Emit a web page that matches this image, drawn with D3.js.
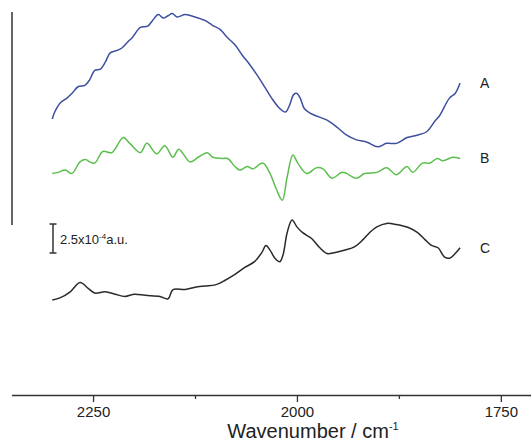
<!DOCTYPE html>
<html>
<head>
<meta charset="utf-8">
<script src="https://cdn.jsdelivr.net/npm/d3@7"></script>
<style>
  body { margin: 0; background: #fff; }
  text { font-family: "Liberation Sans", Arial, sans-serif; fill: #222; }
</style>
</head>
<body>
<svg id="chart" width="531" height="442"></svg>
<script>
// wavenumber (cm-1), absorbance in units of 1e-4 a.u. (curves are offset)
const seriesA = [[2300,22.5],[2297,23.1],[2290,23.9],[2282,24.3],[2276,24.7],[2268,25.3],[2260,25.4],[2254,25.9],[2248,26.7],[2241,26.8],[2235,27.4],[2229,28.2],[2221,28.4],[2215,28.6],[2208,29.1],[2201,29.6],[2192,30.4],[2183,30.5],[2177,31.0],[2170,31.5],[2164,31.2],[2158,31.4],[2153,31.6],[2147,31.3],[2137,31.5],[2125,31.3],[2113,31.0],[2104,30.6],[2094,30.2],[2085,29.5],[2076,28.9],[2067,28.0],[2058,27.2],[2049,26.3],[2039,25.2],[2031,24.3],[2021,23.4],[2014,23.1],[2009,23.7],[2004,24.6],[2000,24.7],[1996,24.3],[1991,23.4],[1984,23.0],[1974,22.7],[1963,22.4],[1951,21.8],[1939,21.1],[1927,20.7],[1914,20.5],[1901,20.1],[1890,20.4],[1878,20.4],[1865,20.9],[1853,21.1],[1841,21.4],[1831,22.3],[1825,22.8],[1813,24.3],[1806,24.7],[1800,25.6]];
const seriesB = [[2300,17.8],[2293,17.9],[2284,18.1],[2276,17.8],[2266,18.8],[2259,19.0],[2254,18.8],[2248,18.7],[2238,19.7],[2227,19.6],[2213,20.9],[2205,20.4],[2192,19.6],[2184,20.4],[2172,19.5],[2162,20.2],[2152,19.2],[2145,19.9],[2131,18.8],[2121,19.2],[2110,19.6],[2103,19.2],[2092,19.1],[2085,19.1],[2076,18.4],[2070,18.1],[2061,18.4],[2054,18.2],[2042,18.7],[2033,17.8],[2025,16.4],[2018,15.5],[2012,17.5],[2005,19.4],[1999,18.7],[1988,17.8],[1976,18.3],[1968,18.2],[1957,17.4],[1944,17.9],[1927,17.4],[1917,17.8],[1902,17.9],[1890,18.3],[1878,17.7],[1865,18.4],[1858,17.9],[1846,18.7],[1837,18.7],[1828,19.1],[1821,18.9],[1809,19.2],[1800,19.1]];
const seriesC = [[2300,6.9],[2290,7.1],[2278,7.6],[2266,8.4],[2256,7.9],[2248,7.5],[2235,7.6],[2223,7.4],[2211,7.2],[2199,7.4],[2186,7.3],[2168,7.2],[2158,7.0],[2152,7.8],[2137,7.8],[2125,8.0],[2113,8.1],[2100,8.2],[2088,8.6],[2076,9.1],[2064,9.7],[2052,10.2],[2043,11.0],[2038,11.6],[2033,11.2],[2027,10.5],[2021,10.2],[2017,10.8],[2012,12.7],[2006,13.8],[2000,13.2],[1993,12.7],[1982,12.2],[1972,11.4],[1963,10.9],[1953,11.0],[1941,11.2],[1929,11.5],[1919,12.1],[1911,12.7],[1902,13.2],[1890,13.5],[1878,13.4],[1862,13.1],[1852,12.7],[1843,12.1],[1835,11.6],[1827,11.4],[1819,10.6],[1813,10.5],[1806,10.9],[1800,11.4]];

const seriesNames = ["A", "B", "C"];
const seriesColors = ["#3d4f9f", "#5cbf4f", "#2a2a2a"];
const majorTicks = [2250, 2000, 1750];
const minorTicks = [2125, 1875];
const scaleBarValue = 2.5;
const xTitle = "Wavenumber / cm";

const svg = d3.select("#chart");

const x = d3.scaleLinear().domain([2350, 1713]).range([11.5, 531]);
const y = d3.scaleLinear().domain([0, 32]).range([380, 8.8]);

const line = d3.line()
  .curve(d3.curveCatmullRom)
  .x(d => x(d[0]))
  .y(d => y(d[1]));

[seriesA, seriesB, seriesC].forEach((s, i) => {
  svg.append("path")
    .datum(s)
    .attr("fill", "none")
    .attr("stroke", seriesColors[i])
    .attr("stroke-width", 1.5)
    .attr("stroke-linejoin", "round")
    .attr("d", line);

  const last = s[s.length - 1];
  svg.append("text")
    .attr("x", x(last[0]) + 20)
    .attr("y", y(last[1]))
    .attr("dy", "0.36em")
    .style("font-size", "14px")
    .text(seriesNames[i]);
});

// bottom axis, major + minor ticks
const axisY = 395;
svg.append("g")
  .attr("transform", "translate(0," + axisY + ")")
  .call(d3.axisBottom(x).tickValues(minorTicks).tickSize(4).tickFormat(""))
  .call(g => g.select(".domain").remove())
  .call(g => g.selectAll("line").attr("stroke", "#333").attr("stroke-width", 1.3));

const gx = svg.append("g")
  .attr("transform", "translate(0," + axisY + ")")
  .call(d3.axisBottom(x).tickValues(majorTicks).tickFormat(d3.format("d"))
    .tickSize(7).tickSizeOuter(0).tickPadding(4));
gx.select(".domain").attr("stroke", "#333").attr("stroke-width", 1.5);
gx.selectAll(".tick line").attr("stroke", "#333").attr("stroke-width", 1.3);
gx.selectAll(".tick text")
  .style("font-size", "15px")
  .style("font-family", "'Liberation Sans', Arial, sans-serif")
  .attr("fill", "#222");

const title = svg.append("text")
  .attr("x", 313)
  .attr("y", 438)
  .attr("text-anchor", "middle")
  .style("font-size", "20px");
title.append("tspan").text(xTitle);
title.append("tspan").attr("dy", -8).style("font-size", "11px").text("-1");

// left frame line
svg.append("line")
  .attr("x1", 12).attr("x2", 12)
  .attr("y1", 12).attr("y2", 225)
  .attr("stroke", "#333")
  .attr("stroke-width", 1.5);

// scale bar
const barX = 53, barTop = 224;
const barH = y(0) - y(scaleBarValue);
const bar = svg.append("g").attr("stroke", "#333").attr("stroke-width", 1.5);
bar.append("line").attr("x1", barX).attr("x2", barX).attr("y1", barTop).attr("y2", barTop + barH);
bar.append("line").attr("x1", barX - 3.5).attr("x2", barX + 3.5).attr("y1", barTop).attr("y2", barTop);
bar.append("line").attr("x1", barX - 3.5).attr("x2", barX + 3.5).attr("y1", barTop + barH).attr("y2", barTop + barH);

const barLabel = svg.append("text")
  .attr("x", barX + 7)
  .attr("y", barTop + barH / 2 + 5)
  .style("font-size", "13px");
barLabel.append("tspan").text(scaleBarValue + "x10");
barLabel.append("tspan").attr("dy", -5).style("font-size", "8px").text("-4");
barLabel.append("tspan").attr("dy", 5).text("a.u.");
</script>
</body>
</html>
